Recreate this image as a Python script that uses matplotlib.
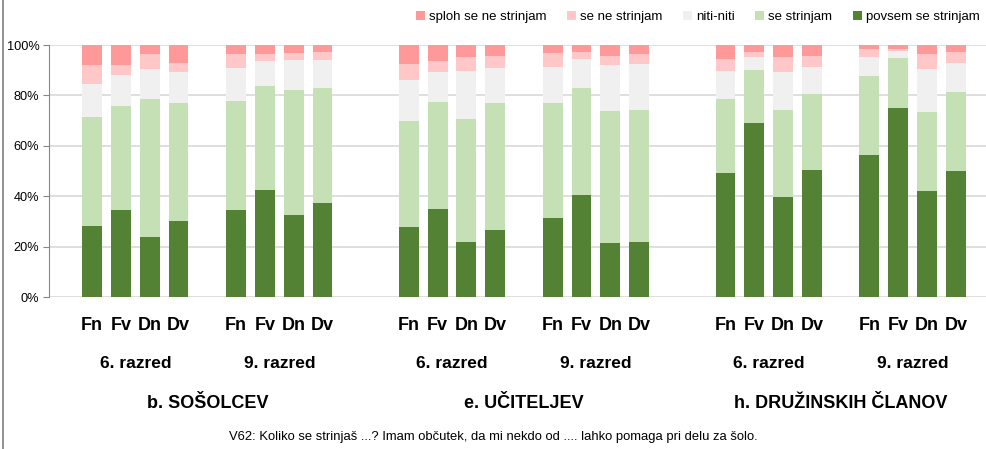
import numpy as np
import matplotlib.pyplot as plt
from matplotlib.transforms import blended_transform_factory
from matplotlib.patches import Patch
from matplotlib.lines import Line2D

plt.rcParams['font.family'] = ['Liberation Sans', 'DejaVu Sans']

answers = ["povsem se strinjam", "se strinjam", "niti-niti", "se ne strinjam", "sploh se ne strinjam"]
colors = ["#548235", "#C5E0B4", "#F0F0F0", "#FFC7C7", "#FF9999"]

bar_labels = ["Fn", "Fv", "Dn", "Dv"] * 6
grades = ["6. razred", "9. razred"] * 3
sections = ["b. SOŠOLCEV", "e. UČITELJEV", "h. DRUŽINSKIH ČLANOV"]
caption = "V62: Koliko se strinjaš ...? Imam občutek, da mi nekdo od .... lahko pomaga pri delu za šolo."

# percentages per bar (povsem, se strinjam, niti-niti, se ne, sploh se ne)
povsem = [28.3, 34.6, 23.9, 30.3, 34.6, 42.5, 32.4, 37.3,
          27.6, 35.0, 21.9, 26.7, 31.4, 40.6, 21.3, 21.9,
          49.4, 69.1, 39.5, 50.5, 56.3, 74.9, 42.0, 50.1]
strinjam = [43.3, 41.2, 54.7, 46.7, 43.3, 41.3, 49.8, 45.5,
            42.4, 42.4, 48.8, 50.3, 45.6, 42.2, 52.5, 52.3,
            29.2, 21.0, 34.7, 30.1, 31.4, 20.1, 31.3, 31.1]
niti = [12.9, 12.3, 11.8, 12.3, 13.0, 9.9, 11.9, 11.3,
        16.1, 11.9, 19.1, 13.9, 14.4, 11.7, 18.1, 18.4,
        11.2, 5.1, 15.1, 10.8, 7.5, 2.8, 17.1, 11.8]
se_ne = [7.6, 4.0, 5.9, 3.7, 5.4, 2.6, 2.7, 3.1,
         6.5, 4.4, 5.6, 4.7, 5.4, 2.7, 3.7, 3.7,
         4.8, 2.0, 5.9, 4.2, 3.2, 0.7, 5.9, 4.2]
sploh = [7.9, 7.9, 3.7, 7.0, 3.7, 3.7, 3.2, 2.8,
         7.4, 6.3, 4.6, 4.4, 3.2, 2.8, 4.4, 3.7,
         5.4, 2.8, 4.8, 4.4, 1.6, 1.5, 3.7, 2.8]

# slot positions: 4 bars per grade, 1 gap between grades, 2 gaps between sections
x = np.array([0, 1, 2, 3, 5, 6, 7, 8,
              11, 12, 13, 14, 16, 17, 18, 19,
              22, 23, 24, 25, 27, 28, 29, 30], dtype=float)

fig = plt.figure(figsize=(9.86, 4.49), dpi=100)
ax = fig.add_axes([49 / 986, 1 - 297 / 449, 1 - 49 / 986, 252 / 449])

series = [povsem, strinjam, niti, se_ne, sploh]
bottom = np.zeros(len(x))
for vals, col, name in zip(series, colors, answers):
    vals = np.array(vals)
    ax.bar(x, vals, 0.69, bottom=bottom, color=col, label=name, zorder=3)
    bottom += vals

ax.set_xlim(-1.5, 31.05)
ax.set_ylim(0, 100)
ax.set_yticks(range(0, 101, 20))
ax.set_yticklabels([f"{v}%" for v in range(0, 101, 20)], fontsize=9.2)
ax.yaxis.grid(True, color="#D9D9D9", linewidth=1.2, zorder=0)
ax.set_xticks([])
for s in ["top", "right", "bottom"]:
    ax.spines[s].set_visible(False)
ax.spines["left"].set_color("#868686")
ax.tick_params(axis="y", length=4, color="#868686", pad=3)

tr = blended_transform_factory(ax.transData, fig.transFigure)
for xi, lab in zip(x, bar_labels):
    ax.text(xi, 1 - 326 / 449, lab, transform=tr, ha="center", va="center",
            fontsize=13, fontweight="bold")
for i, g in enumerate(grades):
    xc = x[i * 4:(i + 1) * 4].mean()
    ax.text(xc, 1 - 364 / 449, g, transform=tr, ha="center", va="center",
            fontsize=12.5, fontweight="bold")
for i, s in enumerate(sections):
    xc = x[i * 8:(i + 1) * 8].mean()
    ax.text(xc, 1 - 403 / 449, s, transform=tr, ha="center", va="center",
            fontsize=13, fontweight="bold")
fig.text(493 / 986, 1 - 437 / 449, caption, ha="center", va="center", fontsize=9.4)

# legend
handles = [Patch(facecolor=c, edgecolor="none") for c in colors[::-1]]
fig.legend(handles, answers[::-1], loc="center right", bbox_to_anchor=(0.999, 1 - 17 / 449),
           ncol=5, frameon=False, fontsize=9.5, handlelength=0.7, handleheight=0.7,
           handletextpad=0.3, columnspacing=1.55, borderaxespad=0)

# left frame border
fig.add_artist(Line2D([3 / 986, 3 / 986], [0, 1], color="#7F7F7F", linewidth=1.2))

fig.savefig("out.png", dpi=100)
